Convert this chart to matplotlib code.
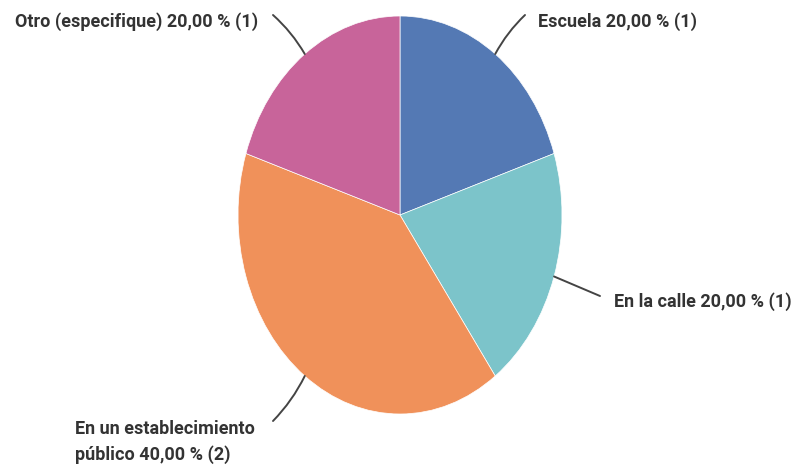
import numpy as np
import matplotlib
matplotlib.use('Agg')
import matplotlib.pyplot as plt

labels = ['Escuela', 'En la calle', 'En un establecimiento\npúblico', 'Otro (especifique)']
counts = [1, 1, 2, 1]
colors = ['#5479b4', '#7cc4ca', '#f0915a', '#c8649a']

# pixel geometry of the reference
W, H = 799, 465
cx, cy = 400, 215
rx, ry = 162, 199

def to_data(px, py):
    return (px - cx) / rx, (cy - py) / ry

fig = plt.figure(figsize=(W / 100, H / 100), dpi=100)
ax = fig.add_axes([0, 0, 1, 1])
wedges, _ = ax.pie(counts, colors=colors, startangle=90, counterclock=False,
                   wedgeprops=dict(linewidth=0.5, edgecolor='white'))
ax.set_aspect('auto')
ax.set_xlim(-cx / rx, (W - cx) / rx)
ax.set_ylim(-(H - cy) / ry, cy / ry)
ax.axis('off')

total = sum(counts)
# text anchor (pixels), line end (pixels), alignment, curvature
layout = [
    ((538, 22), (525, 15), 'left', 0.08),
    ((614, 302), (600, 296), 'left', 0.0),
    ((75, 442), (273, 421), 'left', 0.08),
    ((258, 22), (273, 15), 'right', -0.08),
]

for w, lab, n, (tpos, lend, ha, rad) in zip(wedges, labels, counts, layout):
    pct = n / total * 100
    txt = f"{lab} {pct:.2f} % ({n})".replace('.', ',')
    mid = np.deg2rad((w.theta1 + w.theta2) / 2)
    edge = (np.cos(mid), np.sin(mid))
    ax.annotate('', xy=edge, xytext=to_data(*lend),
                arrowprops=dict(arrowstyle='-', color='#444444', lw=1.4,
                                connectionstyle=f'arc3,rad={rad}',
                                shrinkA=0, shrinkB=0))
    ax.text(*to_data(*tpos), txt, ha=ha, va='center', fontsize=13,
            family='Roboto', weight='bold', color='#333333', linespacing=1.5)

fig.savefig('out.png', dpi=100)
